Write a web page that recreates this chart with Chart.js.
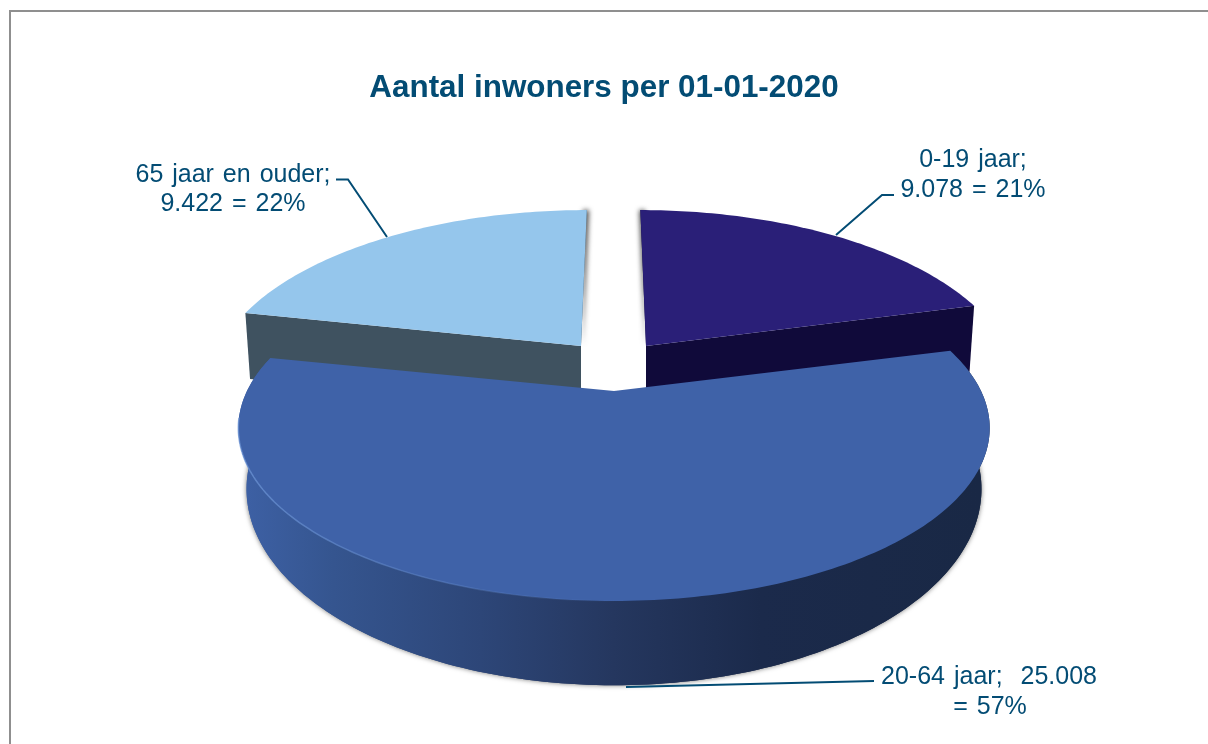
<!DOCTYPE html>
<html>
<head>
<meta charset="utf-8">
<title>Aantal inwoners per 01-01-2020</title>
<script src="https://cdn.jsdelivr.net/npm/chart.js@4"></script>
<style>
  html, body { margin: 0; padding: 0; background: #fff; overflow: hidden; }
  canvas { display: block; }
</style>
</head>
<body>
<canvas id="pieChart" width="1208" height="744"></canvas>
<script>
const categories = ["0-19 jaar", "20-64 jaar", "65 jaar en ouder"];
const inwoners = [9078, 25008, 9422];
const inwonersText = ["9.078", "25.008", "9.422"];
const percentages = ["21%", "57%", "22%"];
const topColors = ["#2a1f78", "#3f62a8", "#95c6ec"];
const sideColors = ["#100a3a", "#1b2a4b", "#3f5260"];

const textColor = "#034c74";

// perspective of each slice: top face, bottom face, and where its tip sits
const small = {
  ex: 0, cy: 346,
  top: { a: 360, b: 165, k: 0.214 },
  low: { a: 355, b: 165, k: 0.214, dy: 66 }
};
const big = {
  ex: 0, cy: 391,
  top: { a: 367, b: 165, k: 0.214 },
  low: { a: 351, b: 179, k: 0.296, dy: 40 }
};
const sliceViews = [
  { ...small, ex: 32 },
  big,
  { ...small, ex: -33 }
];
const centerX = 614;

function project(theta, view, face) {
  const f = face === "low" ? view.low : view.top;
  const w = 1 - f.k * Math.sin(theta);
  return {
    x: centerX + (f.a * Math.cos(theta) + view.ex) / w,
    y: view.cy + (f.dy || 0) + f.b * Math.sin(theta) / w
  };
}

function rim(start, end, view, face) {
  const pts = [];
  const steps = Math.ceil((end - start) / (Math.PI / 180));
  for (let i = 0; i <= steps; i++) {
    pts.push(project(start + (end - start) * i / steps, view, face));
  }
  return pts;
}

function fillPoly(ctx, pts, fill) {
  ctx.beginPath();
  pts.forEach((p, i) => i ? ctx.lineTo(p.x, p.y) : ctx.moveTo(p.x, p.y));
  ctx.closePath();
  ctx.fillStyle = fill;
  ctx.fill();
}

function apex(view, face) {
  return {
    x: centerX + view.ex,
    y: view.cy + (face === "low" ? view.low.dy : 0)
  };
}

function drawSmallSlice(ctx, arc, i) {
  const view = sliceViews[i];
  const top = rim(arc.startAngle, arc.endAngle, view, "top");
  const low = rim(arc.startAngle, arc.endAngle, view, "low");
  const outer = i === 0 ? top.length - 1 : 0;
  const inner = i === 0 ? 0 : top.length - 1;
  const wall = [apex(view), top[outer], low[outer], apex(view, "low")];

  // soft shadow only falls into the gap between the two slices
  ctx.save();
  ctx.beginPath();
  ctx.rect(570, 200, 90, 190);
  ctx.clip();
  ctx.shadowColor = "rgba(0,0,0,0.75)";
  ctx.shadowBlur = 5;
  ctx.shadowOffsetX = i === 0 ? -1 : 2;
  fillPoly(ctx, [top[inner], apex(view), apex(view, "low"), { x: apex(view).x, y: top[inner].y }], sideColors[i]);
  ctx.restore();

  fillPoly(ctx, wall, sideColors[i]);
  fillPoly(ctx, [apex(view), ...top], topColors[i]);
}

function drawBigSlice(ctx, arc, i) {
  const view = sliceViews[i];
  const top = rim(arc.startAngle, arc.endAngle, view, "top");
  const low = rim(arc.startAngle, arc.endAngle, view, "low");

  const side = ctx.createLinearGradient(245, 0, 981, 0);
  side.addColorStop(0, "#3d60a4");
  side.addColorStop(0.12, "#35558f");
  side.addColorStop(0.32, "#2d4678");
  side.addColorStop(0.5, "#25375f");
  side.addColorStop(0.7, "#1b2a4b");
  side.addColorStop(1, "#192845");

  // shadow comes from the bottom face, the top face hides the inner part
  ctx.save();
  ctx.shadowColor = "rgba(0,0,0,0.55)";
  ctx.shadowBlur = 5;
  fillPoly(ctx, [apex(view, "low"), ...low], side);
  ctx.restore();

  fillPoly(ctx, [...top, ...low.slice().reverse()], side);
  fillPoly(ctx, [apex(view), ...top], topColors[i]);

  // light edge on the left part of the rim
  const glow = ctx.createLinearGradient(250, 0, 620, 0);
  glow.addColorStop(0, "rgba(110,150,215,0.7)");
  glow.addColorStop(1, "rgba(110,150,215,0)");
  ctx.beginPath();
  rim(Math.PI * 0.5, Math.PI * 0.95, view, "top").forEach((p, n) => n ? ctx.lineTo(p.x, p.y) : ctx.moveTo(p.x, p.y));
  ctx.strokeStyle = glow;
  ctx.lineWidth = 1.5;
  ctx.stroke();
}

function drawLeader(ctx, pts) {
  ctx.beginPath();
  pts.forEach((p, i) => i ? ctx.lineTo(p[0], p[1]) : ctx.moveTo(p[0], p[1]));
  ctx.strokeStyle = textColor;
  ctx.lineWidth = 2;
  ctx.stroke();
}

function drawLabels(ctx) {
  ctx.save();
  ctx.font = '25px "Liberation Sans", Arial, sans-serif';
  ctx.wordSpacing = "2px";
  ctx.fillStyle = textColor;
  ctx.textAlign = "center";
  ctx.textBaseline = "alphabetic";

  ctx.fillText(categories[0] + ";", 973, 167);
  ctx.fillText(inwonersText[0] + " = " + percentages[0], 973, 197);
  ctx.fillText(categories[1] + ";  " + inwonersText[1], 989, 684);
  ctx.fillText("= " + percentages[1], 990, 714);
  ctx.fillText(categories[2] + ";", 233, 182);
  ctx.fillText(inwonersText[2] + " = " + percentages[2], 233, 211);

  drawLeader(ctx, [[894, 195], [882, 195], [836, 235]]);
  drawLeader(ctx, [[626, 687], [874, 681]]);
  drawLeader(ctx, [[336, 179.5], [348, 179.5], [387, 237]]);
  ctx.restore();
}

const perspectivePie = {
  id: "perspectivePie",
  beforeDraw(chart) {
    const ctx = chart.ctx;
    ctx.save();
    ctx.strokeStyle = "#8f8f8f";
    ctx.lineWidth = 2;
    ctx.strokeRect(10, 11, 1400, 1000);
    ctx.restore();
  },
  // slices are drawn here from the angles the pie controller worked out
  beforeDatasetsDraw(chart) {
    const ctx = chart.ctx;
    const arcs = chart.getDatasetMeta(0).data;
    drawSmallSlice(ctx, arcs[0], 0);
    drawSmallSlice(ctx, arcs[2], 2);
    drawBigSlice(ctx, arcs[1], 1);
    return false;
  },
  afterDraw(chart) {
    drawLabels(chart.ctx);
  }
};

new Chart(document.getElementById("pieChart").getContext("2d"), {
  type: "pie",
  data: {
    labels: categories,
    datasets: [{
      data: inwoners,
      backgroundColor: topColors,
      borderWidth: 0
    }]
  },
  options: {
    responsive: false,
    devicePixelRatio: 1,
    animation: false,
    rotation: 0,
    layout: { padding: 0 },
    plugins: {
      legend: { display: false },
      tooltip: { enabled: false },
      title: {
        display: true,
        text: "Aantal inwoners per 01-01-2020",
        color: textColor,
        font: { family: '"Liberation Sans", Arial, sans-serif', size: 31.4, weight: "bold" },
        padding: { top: 70, bottom: 10 }
      }
    }
  },
  plugins: [perspectivePie]
});
</script>
</body>
</html>
